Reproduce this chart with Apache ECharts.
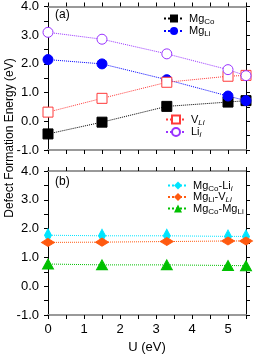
<!DOCTYPE html>
<html><head><meta charset="utf-8">
<script src="https://cdn.jsdelivr.net/npm/echarts@6/dist/echarts.min.js"></script>
<style>html,body{margin:0;padding:0;background:#fff}#c{width:279px;height:360px}</style>
</head><body><div id="c"></div>
<script>
const U = [0, 1.5, 3.3, 5, 5.5];
const mgCo = [-0.44, -0.03, 0.52, 0.67, 0.72];
const mgLi = [2.15, 2.0, 1.45, 0.88, 0.72];
const vLi = [0.32, 0.80, 1.36, 1.57, 1.60];
const liI = [3.10, 2.86, 2.35, 1.80, 1.59];
const mgCoLiI = [1.77, 1.75, 1.75, 1.73, 1.73];
const mgLiVLi = [1.52, 1.53, 1.55, 1.57, 1.57];
const mgCoMgLi = [0.77, 0.74, 0.74, 0.72, 0.71];
const xTicks = [0, 1, 2, 3, 4, 5];
const yTicks = [-1, 0, 1, 2, 3, 4];

const FONT = 'Liberation Sans, Arial, sans-serif';
const pts = a => U.map((u, i) => [u, a[i]]);
const rich = {
  n: {fontSize: 11, fontFamily: FONT, color: '#000'},
  s: {fontSize: 8, fontFamily: FONT, color: '#000', padding: [6, 0, 0, 0]},
  si: {fontSize: 8, fontFamily: FONT, color: '#000', fontStyle: 'italic', padding: [6, 0, 0, 0]}
};
const labels = {
  'MgCo': '{n|Mg}{s|Co}',
  'MgLi': '{n|Mg}{s|Li}',
  'VLi': '{n|V}{si|Li}',
  'Lii': '{n|Li}{si|i}',
  'MgCo-Lii': '{n|Mg}{s|Co}{n|-Li}{si|i}',
  'MgLi-VLi': '{n|Mg}{s|Li}{n|-V}{si|Li}',
  'MgCo-MgLi': '{n|Mg}{s|Co}{n|-Mg}{s|Li}'
};

function xAx(grid, pos, showLabel) {
  return {
    type: 'value', gridIndex: grid, position: pos, min: 0, max: 5.5, interval: 0.5,
    axisLine: {show: true, onZero: false, lineStyle: {color: '#999', width: 2}},
    axisTick: {show: true, inside: false, length: 4, lineStyle: {color: '#000', width: 1}},
    axisLabel: {show: showLabel, fontSize: 13, fontFamily: FONT, color: '#000', margin: 8,
      formatter: v => xTicks.includes(v) ? String(v) : ''},
    splitLine: {show: false},
    name: showLabel ? 'U (eV)' : '', nameLocation: 'middle', nameGap: 26,
    nameTextStyle: {fontSize: 13, fontFamily: FONT, color: '#000'}
  };
}
function yAx(grid, pos, showLabel) {
  return {
    type: 'value', gridIndex: grid, position: pos, min: -1, max: 4, interval: 0.5,
    axisLine: {show: true, onZero: false, lineStyle: {color: '#000', width: 1}},
    axisTick: {show: true, inside: false, length: 4, lineStyle: {color: '#000', width: 1}},
    axisLabel: {show: showLabel, fontSize: 13, fontFamily: FONT, color: '#000', margin: 9,
      formatter: v => yTicks.includes(v) ? v.toFixed(1) : ''},
    splitLine: {show: false}
  };
}
function ser(name, arr, xi, yi, color, symbol, size, empty) {
  return {
    name, type: 'line', xAxisIndex: xi, yAxisIndex: yi, data: pts(arr),
    symbol, symbolSize: size, showSymbol: true,
    lineStyle: {color, width: 1, type: 'dotted'},
    itemStyle: empty ? {color: '#fff', borderColor: color, borderWidth: 1} : {color, borderColor: color},
    z: 3
  };
}
const legendBase = {
  orient: 'vertical', itemWidth: 20, itemHeight: 10, itemGap: 0,
  formatter: n => labels[n], textStyle: {rich}, selectedMode: false, padding: 0
};

const chart = echarts.init(document.getElementById('c'), null, {renderer: 'canvas'});
chart.setOption({
  animation: false,
  backgroundColor: '#fff',
  grid: [
    {left: 48, top: 6, width: 198, height: 144},
    {left: 48, top: 171, width: 198, height: 144}
  ],
  xAxis: [xAx(0, 'bottom', false), xAx(0, 'top', false), xAx(1, 'bottom', true), xAx(1, 'top', false)],
  yAxis: [yAx(0, 'left', true), yAx(0, 'right', false), yAx(1, 'left', true), yAx(1, 'right', false)],
  legend: [
    Object.assign({}, legendBase, {left: 163, top: 13, data: ['MgCo', 'MgLi']}),
    Object.assign({}, legendBase, {left: 165, top: 114, data: ['VLi', 'Lii']}),
    Object.assign({}, legendBase, {left: 167, top: 180, itemGap: -1, data: ['MgCo-Lii', 'MgLi-VLi', 'MgCo-MgLi']})
  ],
  graphic: [
    {type: 'text', left: 55, top: 9, style: {text: '(a)', font: '12px ' + FONT, fill: '#000'}},
    {type: 'text', left: 55, top: 176, style: {text: '(b)', font: '12px ' + FONT, fill: '#000'}},
    {type: 'text', x: 10, y: 138, rotation: Math.PI / 2,
      style: {text: 'Defect Formation Energy (eV)', font: '12px ' + FONT, fill: '#000', align: 'center', verticalAlign: 'middle'}}
  ],
  series: [
    ser('MgCo', mgCo, 0, 0, '#000000', 'rect', 10, false),
    ser('MgLi', mgLi, 0, 0, '#0000ff', 'circle', 10, false),
    ser('VLi', vLi, 0, 0, '#ff3a3a', 'rect', 10, true),
    ser('Lii', liI, 0, 0, '#9933ff', 'circle', 10, true),
    ser('MgCo-Lii', mgCoLiI, 2, 2, '#00e5ff', 'diamond', [7, 13], false),
    ser('MgLi-VLi', mgLiVLi, 2, 2, '#ff5a10', 'diamond', [13, 8], false),
    ser('MgCo-MgLi', mgCoMgLi, 2, 2, '#00c000', 'triangle', [11, 10], false)
  ]
});
</script></body></html>
